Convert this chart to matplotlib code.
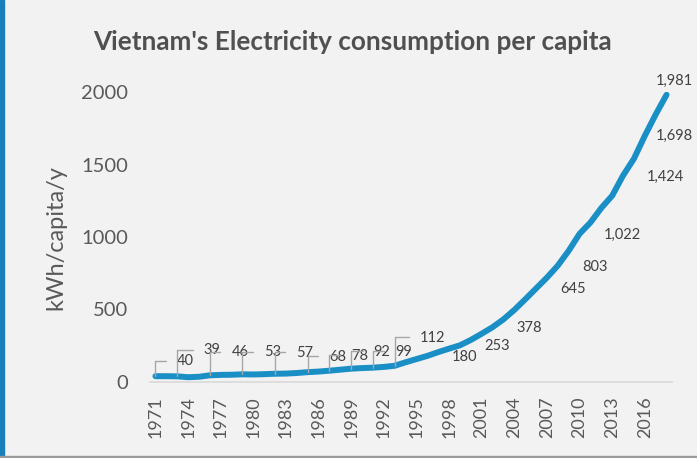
import matplotlib
matplotlib.use("Agg")
import matplotlib.pyplot as plt
from matplotlib.patches import Rectangle

plt.rcParams['font.family'] = ['Lato', 'DejaVu Sans']

# yearly consumption, kWh per capita
years = list(range(1971, 2019))
kwh = [40, 40, 39, 33, 36, 46, 49, 50, 53, 52,
       54, 57, 58, 62, 68, 72, 78, 85, 92, 96,
       99, 104, 112, 136, 158, 180, 206, 230, 253, 290,
       333, 378, 432, 497, 570, 645, 720, 803, 905, 1022,
       1100, 1200, 1285, 1424, 1540, 1698, 1845, 1981]

# years that carry a data label
leader_years = [1971, 1973, 1976, 1979, 1982, 1985, 1987, 1989, 1991, 1993]
right_years = [1996, 1999, 2002, 2006, 2008, 2010, 2014]
tick_years = list(range(1971, 2017, 3))

# label offsets in pixels (dx right, dy up) for the ones with leader lines
leader_off = [(30, 15), (35, 26), (30, 23), (30, 22), (30, 21),
              (30, 15), (30, 15), (31, 17), (31, 16), (38, 28)]

BG = '#F2F2F2'
TXT = '#595959'
LBL = '#404040'
LINE = '#1A8FC6'
PX = 72 / 100  # pixel -> points at dpi 100

fig = plt.figure(figsize=(6.97, 4.58), dpi=100, facecolor=BG)
ax = fig.add_axes([150 / 697, 1 - 382 / 458, 522 / 697, 290 / 458])
ax.set_facecolor(BG)

x = list(range(len(years)))
ax.plot(x, kwh, color=LINE, lw=4.3, solid_capstyle='round',
        solid_joinstyle='round', zorder=3)

ax.set_xlim(-0.5, len(years) - 0.5)
ax.set_ylim(0, 2000)
ax.set_yticks([0, 500, 1000, 1500, 2000])
ax.set_xticks([years.index(y) for y in tick_years])
ax.set_xticklabels([str(y) for y in tick_years], rotation=90)
ax.tick_params(axis='x', length=0, pad=10.5, labelsize=13, colors=TXT)
ax.tick_params(axis='y', length=0, pad=16, labelsize=14.5, colors=TXT)

for s in ['top', 'right', 'left']:
    ax.spines[s].set_visible(False)
ax.spines['bottom'].set_color('#D9D9D9')
ax.spines['bottom'].set_linewidth(1.2)

# labels with leader lines for the early years
for yr, (dx, dy) in zip(leader_years, leader_off):
    i = years.index(yr)
    ax.annotate(f"{kwh[i]:,}", xy=(i, kwh[i]),
                xytext=(dx * PX, dy * PX), textcoords='offset points',
                ha='center', va='center', fontsize=10.5, color=LBL,
                arrowprops=dict(arrowstyle='-', color='#A6A6A6', lw=1.0,
                                connectionstyle='angle,angleA=0,angleB=90,rad=0',
                                relpos=(0, 0.55), shrinkA=6, shrinkB=0),
                zorder=4)

for yr in right_years:
    i = years.index(yr)
    ax.annotate(f"{kwh[i]:,}", xy=(i, kwh[i]), xytext=(24 * PX, -1 * PX),
                textcoords='offset points', ha='left', va='center',
                fontsize=10.5, color=LBL)

i = years.index(2016)
ax.annotate(f"{kwh[i]:,}", xy=(i, kwh[i]), xytext=(11 * PX, 0),
            textcoords='offset points', ha='left', va='center',
            fontsize=10.5, color=LBL)
i = years.index(2018)
ax.annotate(f"{kwh[i]:,}", xy=(i, kwh[i]), xytext=(8 * PX, 14 * PX),
            textcoords='offset points', ha='center', va='center',
            fontsize=10.5, color=LBL)

fig.text(56 / 697, 1 - 238 / 458, 'kWh/capita/y', rotation=90,
         ha='center', va='center', fontsize=17, color=TXT)
fig.text(352 / 697, 1 - 42 / 458, "Vietnam's Electricity consumption per capita",
         ha='center', va='center', fontsize=18.8, fontweight='bold', color='#505050')

# frame edges
fig.patches.append(Rectangle((0, 0), 4 / 697, 1, transform=fig.transFigure,
                             color='#1780BC', zorder=0))
fig.patches.append(Rectangle((0, 0), 1, 2 / 458, transform=fig.transFigure,
                             color='#9A9A9A', zorder=0))

fig.savefig('out.png', dpi=100, facecolor=BG)
